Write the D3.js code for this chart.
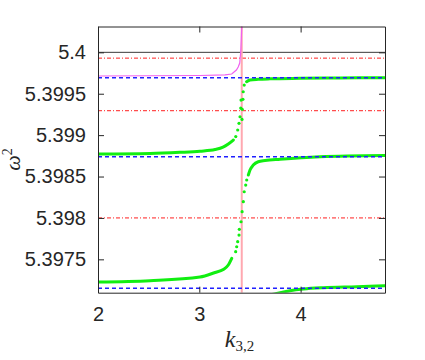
<!DOCTYPE html>
<html>
<head>
<meta charset="utf-8">
<script src="https://cdn.jsdelivr.net/npm/d3@7"></script>
<style>
  body { margin: 0; background: #fff; }
  svg text { fill: #262626; }
</style>
</head>
<body>
<script>
// Chart size and plot box
var width = 425;
var height = 360;
var margin = { left: 98, top: 26.5, right: 40, bottom: 67.3 };
var plotW = width - margin.left - margin.right;
var plotH = height - margin.top - margin.bottom;

// Axis ranges and tick labels
var xDomain = [2, 4.833];
var yDomain = [5.397097, 5.400312];
var xTicks = [2, 3, 4];
var yTicks = [5.3975, 5.398, 5.3985, 5.399, 5.3995, 5.4];
var yTickLabels = ["5.3975", "5.398", "5.3985", "5.399", "5.3995", "5.4"];

// Reference levels
var blackLevels = [5.4];
var redLevels = [5.39993, 5.399295, 5.398];
var blueLevels = [5.399693, 5.398739, 5.39715];
var poleX = [3.419];

// Magenta branch (left of the pole, top mode)
var magentaLine = [[2.0, 5.399714], [3.007, 5.399720], [3.254, 5.399728], [3.320, 5.399738],
  [3.366, 5.399786], [3.384, 5.399822], [3.399, 5.399871], [3.409, 5.400004],
  [3.414, 5.400149], [3.419, 5.400312], [3.420, 5.4005]];

// Green branches: solid part and sparse dots near the pole
var greenALine = [[3.4669, 5.399645], [3.5005, 5.399665], [3.5824, 5.399674], [3.698, 5.399680],
  [3.994, 5.399686], [4.389, 5.399691], [4.833, 5.399694]];
var greenADots = [[3.4215, 5.399190], [3.4235, 5.399312], [3.4304, 5.399432], [3.4334, 5.399524],
  [3.4432, 5.399605]];

var greenBLeftLine = [[2.0, 5.398772], [2.513, 5.398778], [2.809, 5.398792], [3.007, 5.398806],
  [3.155, 5.398826], [3.234, 5.398854], [3.286, 5.398893], [3.336, 5.398941]];
var greenBLeftDots = [[3.360, 5.398983], [3.379, 5.399062], [3.392, 5.399143], [3.402, 5.399222],
  [3.409, 5.399327], [3.412, 5.399424]];

var greenBRightLine = [[3.484, 5.398518], [3.5005, 5.398579], [3.533, 5.398639], [3.582, 5.398679],
  [3.648, 5.398693], [3.797, 5.398709], [4.191, 5.398739], [4.833, 5.398754]];
var greenBRightDots = [[3.4225, 5.398075], [3.4344, 5.398196], [3.4432, 5.398316], [3.458, 5.398397],
  [3.4679, 5.398458]];

var greenCLine = [[2.0, 5.397226], [2.513, 5.397242], [3.007, 5.397286], [3.155, 5.397341],
  [3.237, 5.397377], [3.286, 5.397431], [3.320, 5.397512]];
var greenCDots = [[3.359, 5.397592], [3.369, 5.397652], [3.379, 5.397713], [3.392, 5.397793],
  [3.395, 5.397862], [3.412, 5.397954]];

var greenDLine = [[3.698, 5.397069], [3.764, 5.397089], [3.895, 5.397121], [4.027, 5.397141],
  [4.224, 5.397157], [4.554, 5.397169], [4.833, 5.397181]];

// Scales
var x = d3.scaleLinear().domain(xDomain).range([0, plotW]);
var y = d3.scaleLinear().domain(yDomain).range([plotH, 0]);

var svg = d3.select("body").append("svg")
  .attr("width", width)
  .attr("height", height);

var g = svg.append("g")
  .attr("transform", "translate(" + margin.left + "," + margin.top + ")");

g.append("clipPath").attr("id", "clip")
  .append("rect").attr("width", plotW).attr("height", plotH);

var plot = g.append("g").attr("clip-path", "url(#clip)");

//Draw horizontal reference lines
function hLines(levels, color, w, dash) {
  plot.selectAll(null).data(levels).enter().append("line")
    .attr("x1", 0).attr("x2", plotW)
    .attr("y1", function (d) { return y(d); })
    .attr("y2", function (d) { return y(d); })
    .attr("stroke", color)
    .attr("stroke-width", w)
    .attr("stroke-dasharray", dash);
}

hLines(blackLevels, "#3a3a3a", 1, null);
hLines(redLevels, "#ff2020", 1, "4,2,1,2");

// vertical pole line
plot.selectAll(null).data(poleX).enter().append("line")
  .attr("x1", function (d) { return x(d); })
  .attr("x2", function (d) { return x(d); })
  .attr("y1", 0).attr("y2", plotH)
  .attr("stroke", "#ffa8b0")
  .attr("stroke-width", 2);

var line = d3.line()
  .x(function (d) { return x(d[0]); })
  .y(function (d) { return y(d[1]); })
  .curve(d3.curveMonotoneX);

var green = "#11ee11";
[greenALine, greenBLeftLine, greenBRightLine, greenCLine, greenDLine].forEach(function (pts) {
  plot.append("path").datum(pts)
    .attr("d", line)
    .attr("fill", "none")
    .attr("stroke", green)
    .attr("stroke-width", 3)
    .attr("stroke-linecap", "round");
});

[greenADots, greenBLeftDots, greenBRightDots, greenCDots].forEach(function (pts) {
  plot.selectAll(null).data(pts).enter().append("circle")
    .attr("cx", function (d) { return x(d[0]); })
    .attr("cy", function (d) { return y(d[1]); })
    .attr("r", 1.6)
    .attr("fill", green);
});

plot.append("path").datum(magentaLine)
  .attr("d", d3.line()
    .x(function (d) { return x(d[0]); })
    .y(function (d) { return y(d[1]); }))
  .attr("fill", "none")
  .attr("stroke", "#f060f0")
  .attr("stroke-width", 1.2);

hLines(blueLevels, "#2020ff", 1.5, "4,3");

//Axes with inward ticks on all four sides
var axisColor = "#262626";
function styleAxis(sel) {
  sel.select(".domain").attr("stroke", axisColor).attr("stroke-width", 1);
  sel.selectAll(".tick line").attr("stroke", axisColor).attr("stroke-width", 1);
}

var xAxis = g.append("g").attr("transform", "translate(0," + plotH + ")")
  .call(d3.axisBottom(x).tickValues(xTicks).tickSizeInner(-6).tickSizeOuter(0).tickPadding(14)
    .tickFormat(d3.format("d")));
styleAxis(xAxis);
xAxis.selectAll("text").style("font-family", "'Liberation Sans', Arial, sans-serif")
  .style("font-size", "20px").attr("fill", axisColor);

var xAxisTop = g.append("g")
  .call(d3.axisTop(x).tickValues(xTicks).tickSizeInner(-6).tickSizeOuter(0).tickFormat(""));
styleAxis(xAxisTop);

var yAxis = g.append("g")
  .call(d3.axisLeft(y).tickValues(yTicks).tickSizeInner(-6).tickSizeOuter(0).tickPadding(12)
    .tickFormat(function (d, i) { return yTickLabels[i]; }));
styleAxis(yAxis);
yAxis.selectAll("text").style("font-family", "'Liberation Sans', Arial, sans-serif")
  .style("font-size", "20px").attr("fill", axisColor);

var yAxisRight = g.append("g").attr("transform", "translate(" + plotW + ",0)")
  .call(d3.axisRight(y).tickValues(yTicks).tickSizeInner(-6).tickSizeOuter(0).tickFormat(""));
styleAxis(yAxisRight);

//Axis titles
var xLabel = svg.append("text")
  .attr("x", margin.left + plotW / 2 - 2)
  .attr("y", 347)
  .attr("text-anchor", "middle")
  .style("font-family", "'Liberation Serif', 'Times New Roman', serif");
xLabel.append("tspan").text("k").style("font-style", "italic").style("font-size", "24px");
xLabel.append("tspan").text("3,2").attr("dy", 4).style("font-size", "15px");

var yLabel = svg.append("text")
  .attr("transform", "translate(20," + (margin.top + plotH / 2) + ") rotate(-90)")
  .attr("text-anchor", "middle")
  .style("font-family", "'Liberation Serif', 'Times New Roman', serif");
yLabel.append("tspan").text("ω").style("font-style", "italic").style("font-size", "22px");
yLabel.append("tspan").text("2").attr("dy", -8).style("font-size", "14px");
</script>
</body>
</html>
